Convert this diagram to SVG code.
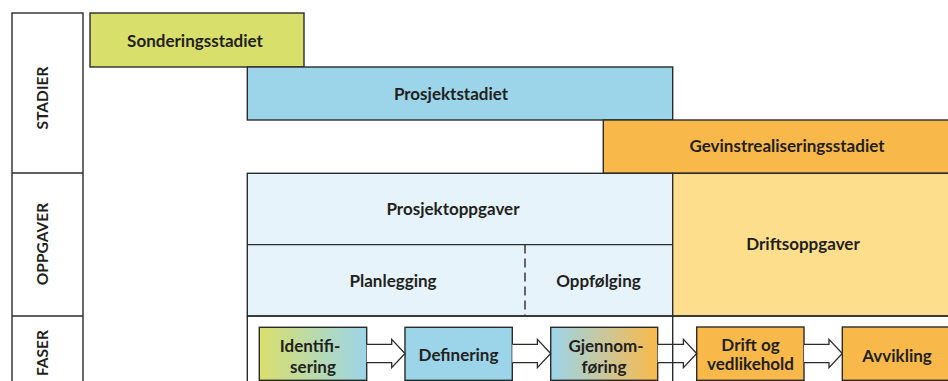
<svg xmlns="http://www.w3.org/2000/svg" width="948" height="381" viewBox="0 0 948 381">
  <defs>
    <linearGradient id="gradIdent" x1="0" y1="0" x2="1" y2="0">
      <stop offset="0" stop-color="#d9df6b"/>
      <stop offset="1" stop-color="#9cd5ea"/>
    </linearGradient>
    <linearGradient id="gradGjen" x1="0" y1="0" x2="1" y2="0">
      <stop offset="0" stop-color="#9cd5ea"/>
      <stop offset="1" stop-color="#f9b94a"/>
    </linearGradient>
  </defs>
  <style>
    .box { stroke: #2b2b2b; stroke-width: 1.4; }
    .line { stroke: #2b2b2b; stroke-width: 1.4; fill: none; }
    .lbl { font-family: Lato, "Open Sans", "Liberation Sans", sans-serif; font-weight: 700; font-size: 17px; fill: #231f20; text-anchor: middle; }
    .side { font-family: Lato, "Open Sans", "Liberation Sans", sans-serif; font-weight: 700; font-size: 15.5px; fill: #231f20; text-anchor: middle; }
    .arrow { fill: #ffffff; stroke: #2b2b2b; stroke-width: 1.3; stroke-linejoin: miter; }
  </style>
  <rect width="948" height="381" fill="#ffffff"/>

  <!-- left category column -->
  <g id="rowlabels">
    <rect class="box" x="12" y="13" width="71" height="380" fill="#ffffff"/>
    <line class="line" x1="12" y1="173" x2="83" y2="173"/>
    <line class="line" x1="12" y1="316" x2="83" y2="316"/>
    <text class="side" transform="translate(47.5,98) rotate(-90)">STADIER</text>
    <text class="side" transform="translate(47.5,244) rotate(-90)">OPPGAVER</text>
    <text class="side" transform="translate(47.5,353) rotate(-90)">FASER</text>
  </g>

  <!-- stages -->
  <g id="sonderingsstadiet">
    <rect class="box" x="90" y="13" width="214" height="54" fill="#d9df6b"/>
    <text class="lbl" x="195" y="47">Sonderingsstadiet</text>
  </g>
  <g id="prosjektstadiet">
    <rect class="box" x="247.3" y="67" width="425.4" height="53" fill="#9cd5ea"/>
    <text class="lbl" x="451" y="99.5">Prosjektstadiet</text>
  </g>
  <g id="gevinstrealiseringsstadiet">
    <rect class="box" x="603.3" y="120" width="370" height="53.3" fill="#f9b94a"/>
    <text class="lbl" x="787" y="152">Gevinstrealiseringsstadiet</text>
  </g>

  <!-- tasks -->
  <g id="prosjektoppgaver">
    <rect class="box" x="247.3" y="173.3" width="425.4" height="142.7" fill="#e6f3fb"/>
    <line class="line" x1="247.3" y1="244.6" x2="672.7" y2="244.6"/>
    <line class="line" x1="525" y1="244.6" x2="525" y2="316" stroke-dasharray="9,5"/>
    <text class="lbl" x="453" y="214.5">Prosjektoppgaver</text>
  </g>
  <g id="planlegging">
    <text class="lbl" x="393" y="287">Planlegging</text>
  </g>
  <g id="oppfolging">
    <text class="lbl" x="598.5" y="287">Oppfølging</text>
  </g>
  <g id="driftsoppgaver">
    <rect class="box" x="672.7" y="173.3" width="290" height="142.7" fill="#fdde8c"/>
    <text class="lbl" x="803" y="249.5">Driftsoppgaver</text>
  </g>

  <!-- phase row frame -->
  <g id="faser-frame">
    <line class="line" x1="247.3" y1="316" x2="948" y2="316"/>
    <line class="line" x1="247.3" y1="316" x2="247.3" y2="381"/>
  </g>

  <!-- phases -->
  <g id="identifisering">
    <rect class="box" x="259.3" y="327.3" width="107.4" height="53" fill="url(#gradIdent)"/>
    <text class="lbl" x="310" y="352">Identifi-</text>
    <text class="lbl" x="313" y="372.5">sering</text>
  </g>
  <g id="definering">
    <rect class="box" x="405" y="327.3" width="107.3" height="53" fill="#9cd5ea"/>
    <text class="lbl" x="458.5" y="360.5">Definering</text>
  </g>
  <g id="gjennomforing">
    <rect class="box" x="550.7" y="327.3" width="107" height="53" fill="url(#gradGjen)"/>
    <text class="lbl" x="606" y="351.5">Gjennom-</text>
    <text class="lbl" x="604" y="372.5">føring</text>
  </g>
  <g id="drift-og-vedlikehold">
    <rect class="box" x="696.7" y="327" width="107.3" height="53.3" fill="#f9b94a"/>
    <text class="lbl" x="750.5" y="350.5">Drift og</text>
    <text class="lbl" x="750.5" y="370">vedlikehold</text>
  </g>
  <g id="avvikling">
    <rect class="box" x="842.3" y="327" width="130" height="53.3" fill="#f9b94a"/>
    <text class="lbl" x="897" y="362">Avvikling</text>
  </g>

  <!-- connectors: hollow block arrows between phases -->
  <g id="connectors">
    <path class="arrow" d="M366.7,344.3 H391.7 V339.3 L405,353.5 L391.7,367.7 V362.7 H366.7"/>
    <path class="arrow" d="M512.3,344.3 H537.4 V339.3 L550.7,353.5 L537.4,367.7 V362.7 H512.3"/>
    <path class="arrow" d="M657.7,344.3 H683.4 V339.3 L696.7,353.5 L683.4,367.7 V362.7 H657.7"/>
    <path class="arrow" d="M804,344.3 H829 V339.3 L842.3,353.5 L829,367.7 V362.7 H804"/>
    <!-- divider between project and operations columns runs over the arrow -->
    <line class="line" x1="672.7" y1="316" x2="672.7" y2="381"/>
  </g>
</svg>
